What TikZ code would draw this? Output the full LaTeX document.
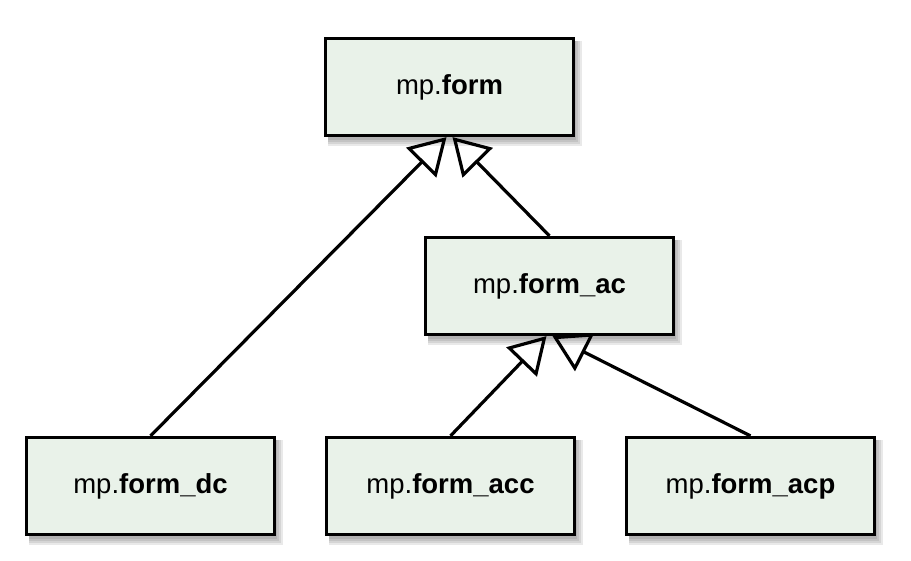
\documentclass[tikz,border=0pt]{standalone}
\usepackage{fontspec}
\setmainfont{Liberation Sans}
\usetikzlibrary{arrows.meta,backgrounds}
\definecolor{boxfill}{RGB}{233,242,233}
\tikzset{
  classbox/.style={draw=black, line width=3.2pt, fill=boxfill,
    minimum width=248pt, minimum height=97pt, inner sep=0pt,
    font=\fontsize{27.5}{32}\selectfont},
  inherit/.style={line width=3.2pt, -{Triangle[open, length=36pt, width=42pt, line width=3.2pt]}},
  shadowlayer/.style={fill=black, opacity=0.085}
}
\newcommand{\boxshadow}[1]{%
  \foreach \r in {0,2,4,6}{%
    \fill[shadowlayer] ([shift={(4,4)}]#1.north west) rectangle ([shift={(1+\r,3+\r)}]#1.south east);
  }%
}
\begin{document}
\begin{tikzpicture}[x=1pt, y=-1pt]
\useasboundingbox (0,0) rectangle (911,561);
\node[classbox] (form) at (449.5,87) {mp.\textbf{form}};
\node[classbox] (ac) at (549.5,286) {mp.\textbf{form\_ac}};
\node[classbox] (dc) at (150.5,486) {mp.\textbf{form\_dc}};
\node[classbox] (acc) at (450.5,486) {mp.\textbf{form\_acc}};
\node[classbox] (acp) at (750.5,486) {mp.\textbf{form\_acp}};
\begin{scope}[on background layer]
\boxshadow{form}
\boxshadow{ac}
\boxshadow{dc}
\boxshadow{acc}
\boxshadow{acp}
\end{scope}
\draw[inherit] (dc.north) -- ([xshift=-3pt]form.south);
\draw[inherit] (ac.north) -- ([xshift=3pt]form.south);
\draw[inherit] (acc.north) -- ([xshift=-3pt]ac.south);
\draw[inherit] (acp.north) -- ([xshift=3pt]ac.south);
\end{tikzpicture}
\end{document}
